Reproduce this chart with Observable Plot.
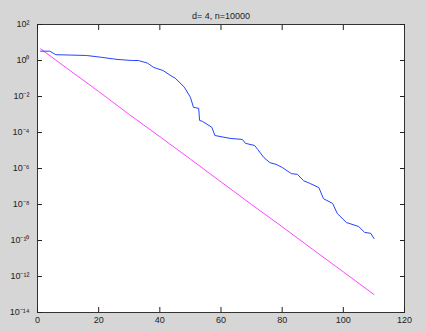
<!DOCTYPE html>
<html><head><meta charset="utf-8">
<script src="https://cdn.jsdelivr.net/npm/d3@7"></script>
<script src="https://cdn.jsdelivr.net/npm/@observablehq/plot@0.6"></script>
<style>html,body{margin:0;padding:0;background:#d6d6d6;overflow:hidden;}</style>
</head><body><div id="chart"></div>
<script>
const title = "d= 4, n=10000";
const xTicks = [0, 20, 40, 60, 80, 100, 120];
const yTicks = [1e2, 1e0, 1e-2, 1e-4, 1e-6, 1e-8, 1e-10, 1e-12, 1e-14];
const yTickLabels = ["10²", "10⁰", "10⁻²", "10⁻⁴", "10⁻⁶", "10⁻⁸", "10⁻¹⁰", "10⁻¹²", "10⁻¹⁴"];

// blue series (iteration, value)
const blueX = [1, 4, 6, 16, 21, 26, 31, 33, 36, 38, 41, 44, 45, 48, 50, 51, 52.7, 53, 54, 57, 58, 63, 67, 68, 71, 72, 74, 76, 78, 80, 83, 85, 87, 89, 92, 93.5, 96.5, 98, 101, 105, 107, 109, 110];
const blueY = [3.3, 3.3, 2.1, 1.9, 1.5, 1.15, 1.0, 1.0, 0.71, 0.41, 0.28, 0.13, 0.105, 0.033, 9.1e-3, 2.5e-3, 2.2e-3, 4.7e-4, 4.1e-4, 1.95e-4, 6.8e-5, 4.7e-5, 4.1e-5, 2.5e-5, 1.9e-5, 1.15e-5, 4.1e-6, 2.1e-6, 1.7e-6, 1.15e-6, 5.2e-7, 4.7e-7, 2.1e-7, 1.5e-7, 8.7e-8, 2.1e-8, 1.15e-8, 3.2e-9, 1.0e-9, 6.0e-10, 2.8e-10, 2.5e-10, 1.3e-10];

// magenta series (iteration, value)
const magX = [1, 10, 20, 30, 40, 50, 60, 70, 80, 90, 100, 110];
const magY = [4.47, 3.3e-1, 1.9e-2, 1.0e-3, 5.9e-5, 3.3e-6, 1.8e-7, 1.0e-8, 5.8e-10, 3.2e-11, 1.8e-12, 1.0e-13];

const blue = blueX.map((x, i) => ({x, y: blueY[i]}));
const mag = magX.map((x, i) => ({x, y: magY[i]}));

const plot = Plot.plot({
  width: 426, height: 332,
  marginLeft: 37, marginRight: 22, marginTop: 24, marginBottom: 20,
  style: {background: "transparent", fontFamily: "'Liberation Sans', Arial, sans-serif", fontSize: "9px", color: "#222"},
  x: {domain: [0, 120]},
  y: {type: "log", domain: [1e-14, 1e2]},
  marks: [
    Plot.frame({fill: "white"}),
    Plot.line(mag, {x: "x", y: "y", stroke: "#ff44ff", strokeWidth: 1}),
    Plot.line(blue, {x: "x", y: "y", stroke: "#2244ff", strokeWidth: 1}),
    Plot.frame({stroke: "#333"}),
    Plot.axisX({ticks: xTicks, tickSize: -5, tickPadding: 9, label: null, tickFormat: d => String(d)}),
    Plot.axisX({anchor: "top", ticks: xTicks, tickSize: -5, label: null, tickFormat: () => ""}),
    Plot.axisY({ticks: yTicks, tickSize: -5, tickPadding: 13, label: null, tickFormat: d => yTickLabels[yTicks.indexOf(d)]}),
    Plot.axisY({anchor: "right", ticks: yTicks, tickSize: -5, label: null, tickFormat: () => ""}),
    Plot.text([title], {frameAnchor: "top", dy: -12, fontSize: 9, fill: "#222"})
  ]
});
document.getElementById("chart").appendChild(plot);
</script>
</body></html>
